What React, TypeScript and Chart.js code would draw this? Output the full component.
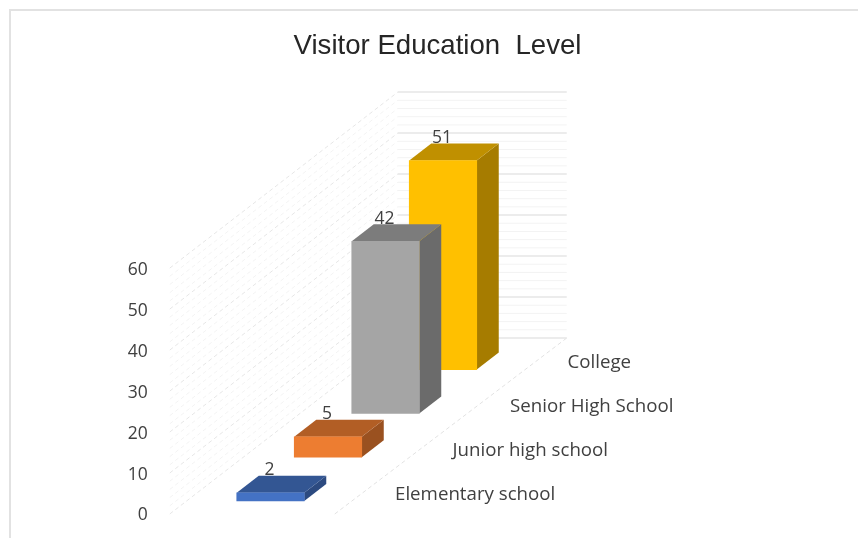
import React, { useEffect, useRef } from "react";
import { Chart, BarController, registerables } from "chart.js";

const categories = ["Elementary school", "Junior high school", "Senior High School", "College"];
const visitors = [2, 5, 42, 51];
const frontColors = ["#4472C4", "#ED7D31", "#A5A5A5", "#FFC000"];
const topColors = ["#335693", "#B25E25", "#7C7C7C", "#C09000"];
const sideColors = ["#2C4A80", "#9A5120", "#6B6B6B", "#A67C00"];

// Oblique projection: each category sits one step further back on the floor.
const ROW_RISE = 43.8;
const FLOOR_LIFT = 13;
const BAR_DEPTH_X = 22;
const BAR_DEPTH_Y = 17;
const WALL_DX = 228;
const WALL_DY = 176;
const CATEGORY_FONT = '18.7px "Open Sans"';
const VALUE_FONT = '17.5px "Open Sans"';
const TEXT_COLOR = "#404040";

const rowShift = (i: number) => -FLOOR_LIFT - i * ROW_RISE;

// Bar controller that extrudes each bar and paints rows from back to front.
class Bar3DController extends BarController {
  static id = "bar3d";
  static defaults = BarController.defaults;
  static overrides = BarController.overrides;

  draw() {
    const ctx = this.chart.ctx;
    const bars = this.getMeta().data;
    for (let i = bars.length - 1; i >= 0; i--) {
      const bar: any = bars[i];
      const { x, y, base, width } = bar.getProps(["x", "y", "base", "width"], true);
      const right = x + width / 2;
      const left = x - width / 2;
      const dy = rowShift(i);
      const poly = (pts: number[][], fill: string) => {
        ctx.beginPath();
        pts.forEach(([px, py], k) => (k ? ctx.lineTo(px, py) : ctx.moveTo(px, py)));
        ctx.closePath();
        ctx.fillStyle = fill;
        ctx.fill();
      };
      ctx.save();
      ctx.translate(0, dy);
      poly(
        [
          [right, y],
          [right + BAR_DEPTH_X, y - BAR_DEPTH_Y],
          [right + BAR_DEPTH_X, base - BAR_DEPTH_Y],
          [right, base],
        ],
        sideColors[i]
      );
      poly(
        [
          [left, y],
          [left + BAR_DEPTH_X, y - BAR_DEPTH_Y],
          [right + BAR_DEPTH_X, y - BAR_DEPTH_Y],
          [right, y],
        ],
        topColors[i]
      );
      bar.draw(ctx);
      ctx.restore();
    }
  }
}

Chart.register(...registerables, Bar3DController);

// Frame, side wall, back wall and floor of the box behind the bars.
const boxPlugin = {
  id: "box",
  beforeDatasetsDraw(chart: any) {
    const { ctx, scales } = chart;
    const yScale = scales.y;
    const wallLeft = scales.x.left - 72;
    const floorRight = wallLeft + 165;
    const backRight = wallLeft + WALL_DX + 169;

    ctx.save();
    ctx.strokeStyle = "#E2E2E2";
    ctx.lineWidth = 2;
    ctx.beginPath();
    ctx.moveTo(10, chart.height);
    ctx.lineTo(10, 10);
    ctx.lineTo(chart.width, 10);
    ctx.stroke();

    for (let v = 0; v <= 60; v += 2) {
      const py = yScale.getPixelForValue(v);
      const major = v % 10 === 0;
      ctx.strokeStyle = major ? "#E6E6E6" : "#F3F3F3";
      ctx.lineWidth = major ? 1.5 : 1;
      ctx.setLineDash([]);
      ctx.beginPath();
      ctx.moveTo(wallLeft + WALL_DX, py - WALL_DY);
      ctx.lineTo(backRight, py - WALL_DY);
      ctx.stroke();
      ctx.lineWidth = 1;
      ctx.setLineDash([4, 3]);
      ctx.beginPath();
      ctx.moveTo(wallLeft, py);
      ctx.lineTo(wallLeft + WALL_DX, py - WALL_DY);
      ctx.stroke();
    }
    const floorY = yScale.getPixelForValue(0);
    ctx.strokeStyle = "#E2E2E2";
    ctx.beginPath();
    ctx.moveTo(floorRight, floorY);
    ctx.lineTo(backRight, floorY - WALL_DY);
    ctx.stroke();
    ctx.restore();
  },
  afterDatasetsDraw(chart: any) {
    const { ctx, scales } = chart;
    const bars = chart.getDatasetMeta(0).data;
    ctx.save();
    ctx.fillStyle = TEXT_COLOR;
    ctx.textBaseline = "middle";
    bars.forEach((bar: any, i: number) => {
      const dy = rowShift(i);
      ctx.font = VALUE_FONT;
      ctx.textAlign = "center";
      ctx.fillText(String(visitors[i]), bar.x - 1, bar.y + dy - BAR_DEPTH_Y - 5.5);
      ctx.font = CATEGORY_FONT;
      ctx.textAlign = "left";
      ctx.fillText(scales.x.getLabelForValue(i), bar.x + 124.5, bar.base + dy - 6.5);
    });
    ctx.restore();
  },
};

export default function App() {
  const ref = useRef<HTMLCanvasElement>(null);

  useEffect(() => {
    const chart = new Chart(ref.current!, {
      type: "bar3d" as any,
      data: {
        labels: categories,
        datasets: [
          {
            label: "Visitors",
            data: visitors,
            backgroundColor: frontColors,
            borderWidth: 0,
            barThickness: 67.5,
            clip: false,
          },
        ],
      },
      options: {
        responsive: false,
        animation: false,
        layout: { autoPadding: false, padding: { left: 17, right: 0, top: 0, bottom: 24 } },
        plugins: {
          legend: { display: false },
          tooltip: { enabled: false },
          title: {
            display: true,
            text: "Visitor Education  Level",
            color: "#262626",
            font: { family: '"Liberation Sans"', size: 27.6, weight: "normal" },
            padding: { top: 30, bottom: 205 },
          },
        },
        scales: {
          x: {
            display: false,
          },
          y: {
            min: 0,
            max: 60,
            grid: { display: false },
            border: { display: false },
            afterFit: (scale: any) => {
              // The wide tick gap only moves the labels sideways.
              scale.width = 224.75;
              scale.paddingTop = 0;
              scale.paddingBottom = 0;
            },
            ticks: {
              stepSize: 10,
              padding: 86,
              labelOffset: 1.5,
              color: TEXT_COLOR,
              font: { family: '"Open Sans"', size: 17.5 },
            },
          },
          // Empty axis that reserves the strip holding the category labels.
          y2: {
            position: "right",
            grid: { display: false },
            border: { display: false },
            ticks: { display: false },
            afterFit: (scale: any) => {
              scale.width = 386.25;
            },
          },
        },
      } as any,
      plugins: [boxPlugin],
    });
    return () => chart.destroy();
  }, []);

  return (
    <div style={{ position: "fixed", left: 0, top: 0 }}>
      <canvas ref={ref} width={858} height={538} style={{ display: "block" }} />
    </div>
  );
}
